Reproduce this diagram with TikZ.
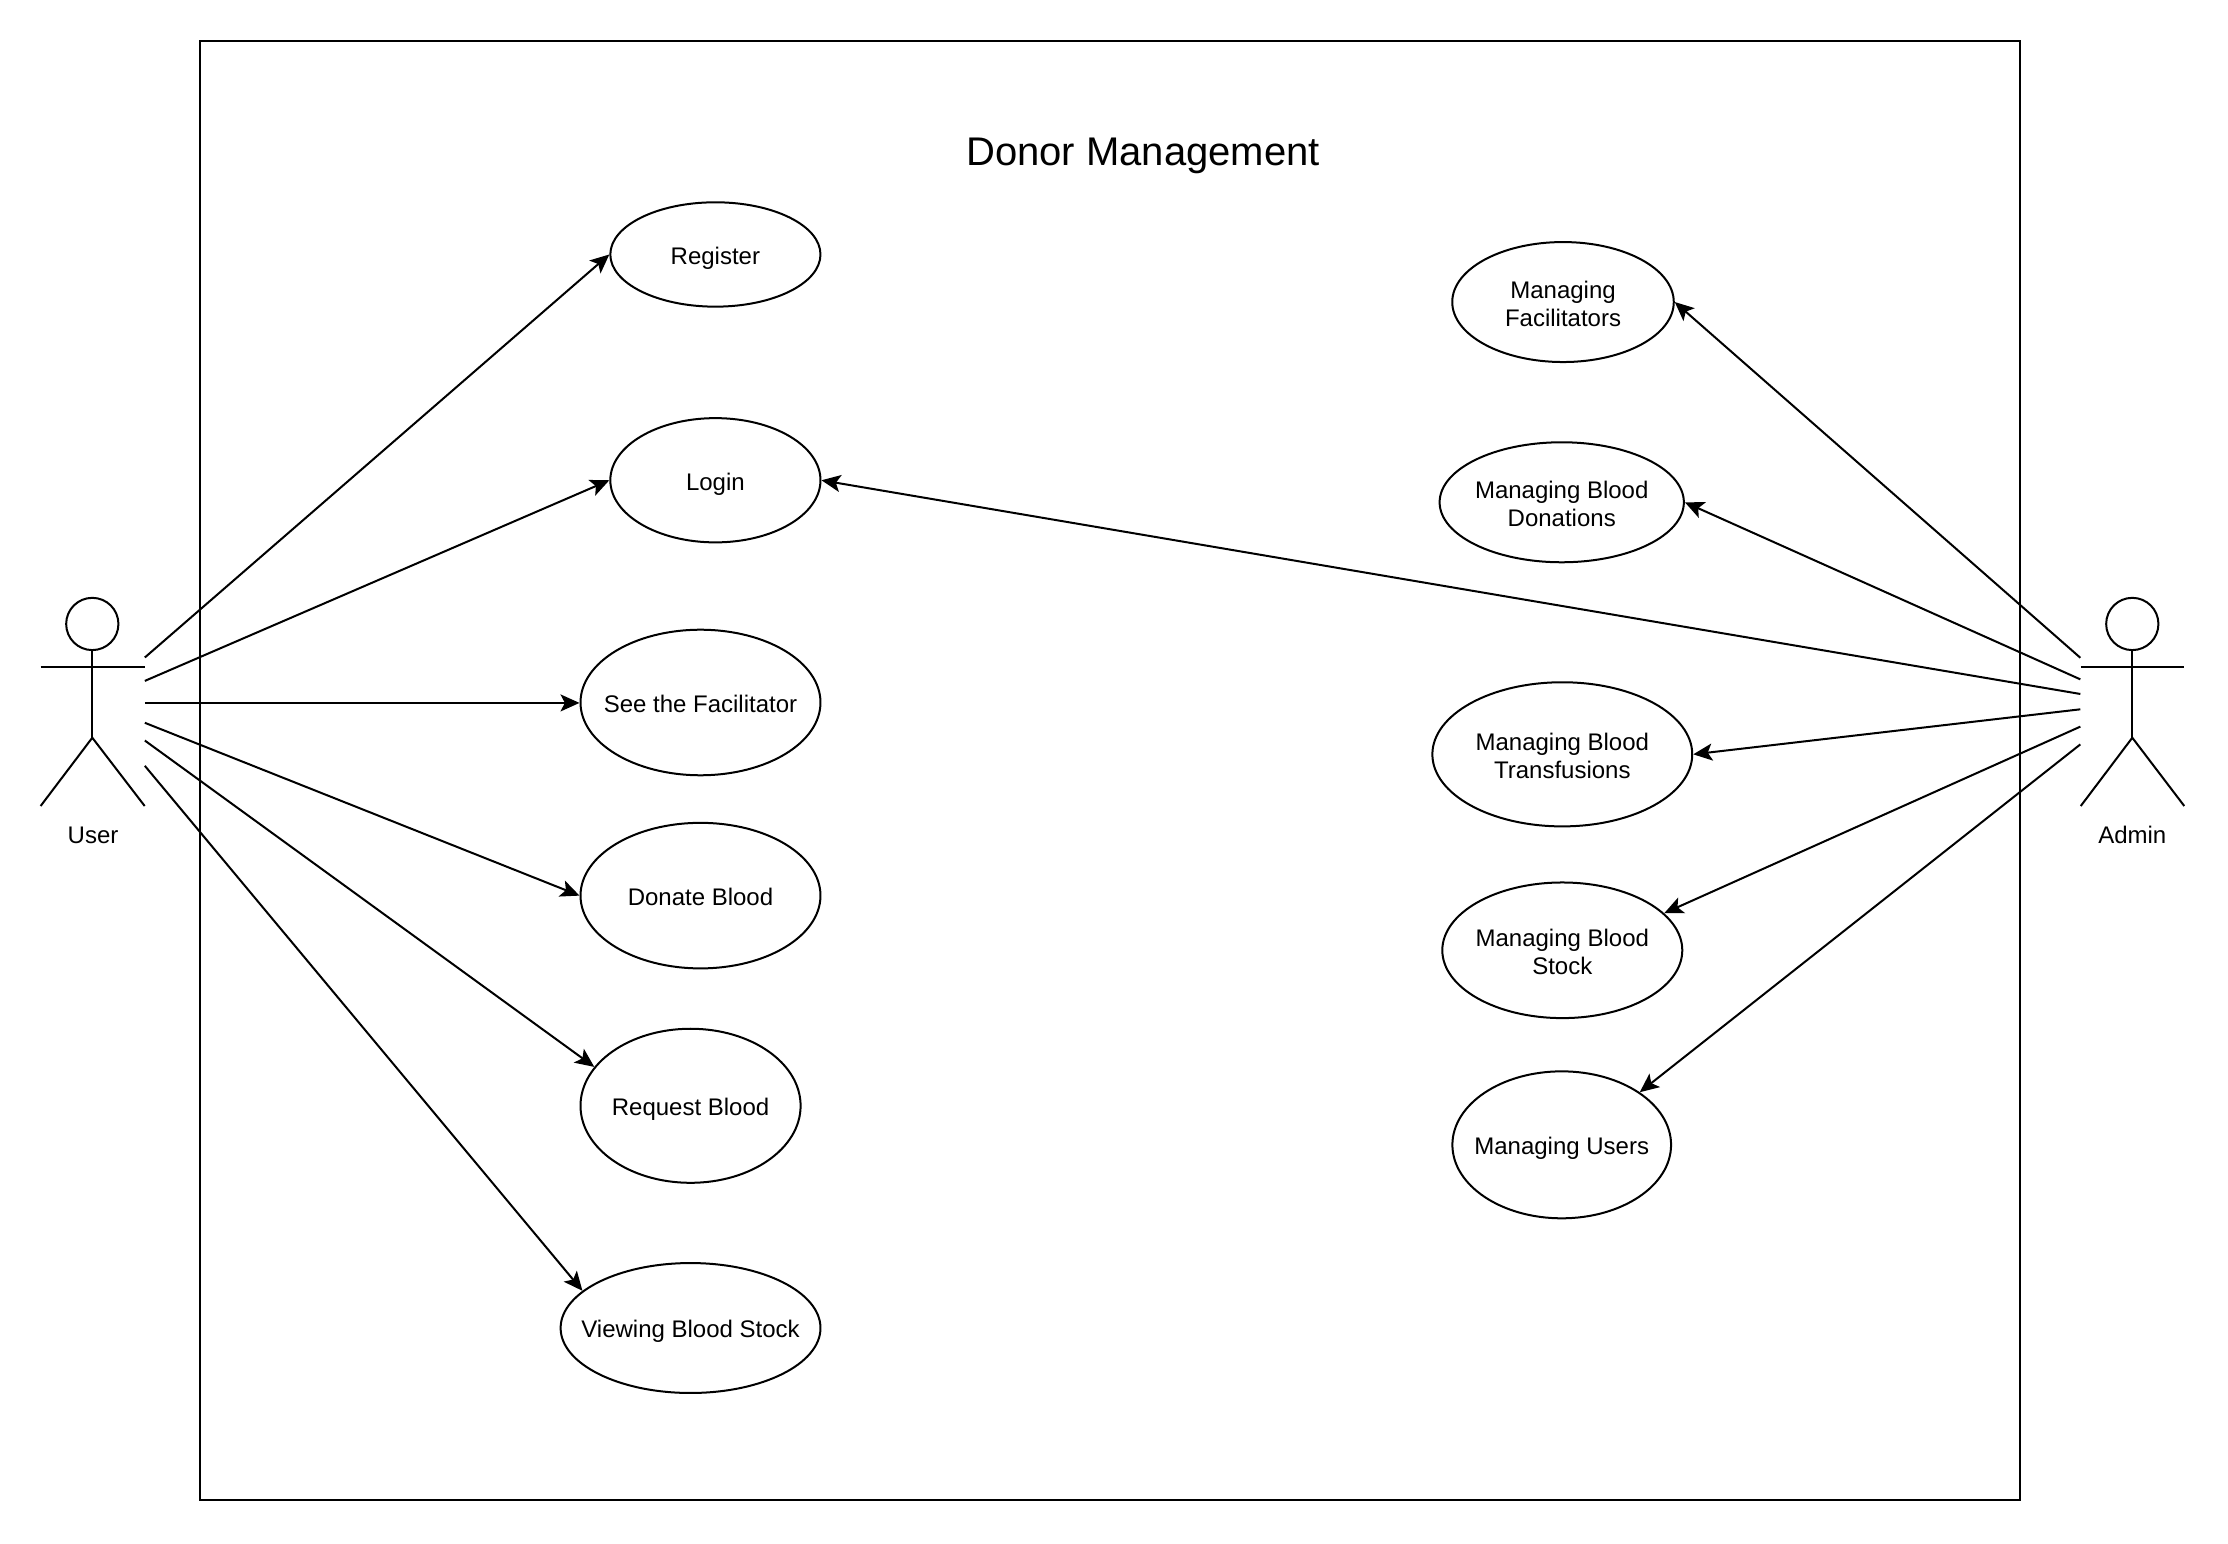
\documentclass[tikz,border=0pt]{standalone}
\usepackage{fontspec}
\setmainfont{Liberation Sans}
\usetikzlibrary{shapes.geometric,arrows.meta}
\tikzset{
  uc/.style={draw,ellipse,inner sep=0pt,line width=1pt},
  flow/.style={line width=1pt,-{Stealth[length=9.5pt,width=8.5pt,inset=2.2pt]}},
  limb/.style={line width=1pt},
  lab/.style={inner sep=0pt,align=center,text height=12pt,text depth=2.2pt,font=\fontsize{12}{14.2}\selectfont},
  labtwo/.style={lab,yshift=-7.3pt}
}
\newcommand{\ucnode}[7][lab]{\node[uc,minimum width=#5*0.71pt,minimum height=#6*0.71pt] (#2) at (#3,#4) {};
  \node[#1] (#2t) at (#2.center) {#7};}
\begin{document}
\begin{tikzpicture}[x=0.71pt,y=-0.71pt]
\useasboundingbox (0,0) rectangle (1569,1087.3);
\node[draw,line width=1pt,minimum width=1281.4*0.71pt,minimum height=1027.4*0.71pt,inner sep=0pt] (frame) at (781.8,542.6) {};
\node[inner sep=0pt,font=\fontsize{20}{24}\selectfont] (title) at (805,110) {Donor Management};
% use cases
\ucnode{reg}{503.8}{179.2}{148}{73.5}{Register}
\ucnode{log}{503.8}{338.2}{148}{87.5}{Login}
\ucnode{see}{493.3}{494.7}{169}{102.5}{See the Facilitator}
\ucnode{don}{493.3}{630.7}{169}{102.5}{Donate Blood}
\ucnode{req}{486.3}{778.7}{155}{108.5}{Request Blood}
\ucnode{vie}{486.3}{935.2}{183}{91.5}{Viewing Blood Stock}
\ucnode[labtwo]{mfa}{1100.7}{212.7}{156}{84.5}{Managing\\Facilitators}
\ucnode[labtwo]{mdo}{1099.8}{353.7}{172}{84.5}{Managing Blood\\Donations}
\ucnode[labtwo]{mtr}{1100.2}{531.2}{183}{101.5}{Managing Blood\\Transfusions}
\ucnode[labtwo]{mst}{1100.2}{669.2}{169}{95.5}{Managing Blood\\Stock}
\ucnode{mus}{1099.8}{806.2}{154}{103.5}{Managing Users}
% user actor
\node[draw,circle,line width=1pt,minimum size=36.8*0.71pt,inner sep=0pt] (uh) at (65,439.4) {};
\coordinate (ub) at (65,519.5);
\coordinate (ual) at (28.6,470);
\coordinate (uar) at (101.9,470);
\coordinate (ull) at (28.6,567.6);
\coordinate (ulr) at (101.9,567.6);
\draw[limb] (uh.south) -- (ub);
\draw[limb] (ual) -- (uar);
\draw[limb] (ull) -- (ub) -- (ulr);
\node[lab] (ulab) at (65.5,586.8) {User};
% admin actor
\node[draw,circle,line width=1pt,minimum size=36.8*0.71pt,inner sep=0pt] (ah) at (1501.6,439.4) {};
\coordinate (ab) at (1501.6,519.5);
\coordinate (aal) at (1465.3,470);
\coordinate (aar) at (1538.2,470);
\coordinate (all) at (1465.3,567.6);
\coordinate (alr) at (1538.2,567.6);
\draw[limb] (ah.south) -- (ab);
\draw[limb] (aal) -- (aar);
\draw[limb] (all) -- (ab) -- (alr);
\node[lab] (alab) at (1501.6,586.8) {Admin};
% free ends
\coordinate (u1) at (102,463);
\coordinate (u2) at (102,479.5);
\coordinate (u3) at (102,495);
\coordinate (u4) at (102,509);
\coordinate (u5) at (102,521.5);
\coordinate (u6) at (102,539.3);
\coordinate (a1) at (1465,463.2);
\coordinate (a2) at (1465,478.4);
\coordinate (a3) at (1465,488.7);
\coordinate (a4) at (1465,499.5);
\coordinate (a5) at (1465,511.7);
\coordinate (a6) at (1465,524.2);
\draw[flow] (u1) -- (reg.west);
\draw[flow] (u2) -- (log.west);
\draw[flow] (u3) -- (see.west |- u3);
\draw[flow] (u4) -- (don.west);
\draw[flow] (u5) -- (req.158);
\draw[flow] (u6) -- (vie.161);
\draw[flow] (a1) -- (mfa.east);
\draw[flow] (a2) -- (mdo.east);
\draw[flow] (a3) -- (log.east);
\draw[flow] (a4) -- (mtr.east);
\draw[flow] (a5) -- (mst.20);
\draw[flow] (a6) -- (mus.34);
\end{tikzpicture}
\end{document}
